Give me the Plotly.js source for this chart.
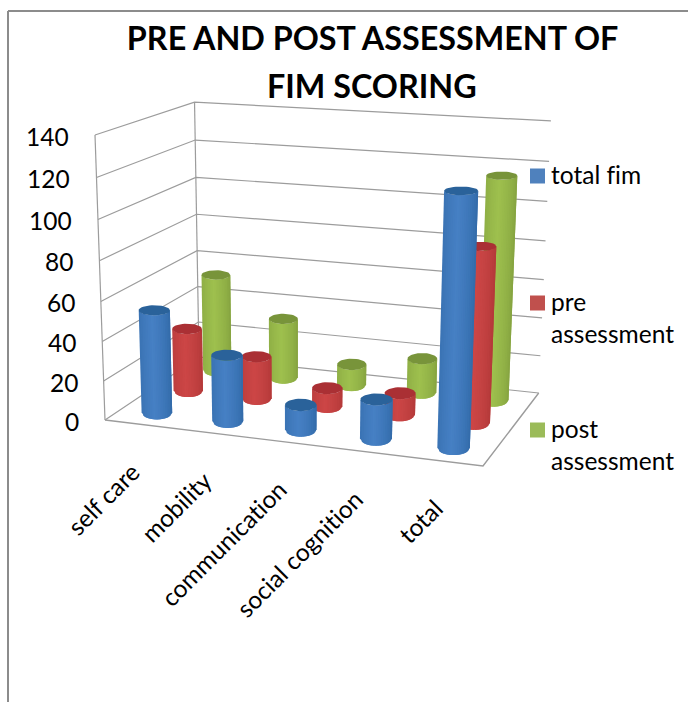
<!DOCTYPE html>
<html>
<head>
<meta charset="utf-8">
<script src="https://cdn.plot.ly/plotly-3.0.1.min.js"></script>
<style>
html,body{margin:0;padding:0;background:#fff;overflow:hidden}
#chart{width:688px;height:702px}
#chart text{font-variant-ligatures:none !important;font-feature-settings:"liga" 0 !important;letter-spacing:0.01px}
</style>
</head>
<body>
<div id="chart"></div>
<script>
// FIM scores per domain
const categories = ["self care", "mobility", "communication", "social cognition", "total"];
const totalFim = [52.5, 33.5, 12.5, 19.5, 121.5];
const preAssessment = [33, 22, 9.5, 11, 88];
const postAssessment = [52.5, 32, 11, 18, 115];
const valueTicks = [0, 20, 40, 60, 80, 100, 120, 140];
const valueMax = 140;

const seriesNames = ["total fim", "pre assessment", "post assessment"];
const seriesValues = [totalFim, preAssessment, postAssessment];

// body shading runs edge -> centre -> edge; cap is the darker top face
const palette = [
  {edge: [48, 104, 166], mid: [70, 128, 196], cap: [42, 98, 154], key: "#4f81bd"},
  {edge: [176, 56, 56], mid: [204, 70, 70], cap: [170, 48, 52], key: "#c0504d"},
  {edge: [130, 160, 62], mid: [158, 192, 78], cap: [120, 148, 58], key: "#9bbb59"}
];

// Oblique box of the 3D plot: floor corners and the top of the front-left edge
const floorFL = [105, 420], floorFR = [483, 466], floorBL = [199, 357];
const topFL = [95, 135];
const wFL = 1, wFR = 0.925, wBL = 1.125, wTop = 0.95;

// Perspective mapping: u along categories, d into depth, v value (all 0..1)
function project(u, d, v) {
  const c = k => floorFL[k] * wFL
    + u * (floorFR[k] * wFR - floorFL[k] * wFL)
    + d * (floorBL[k] * wBL - floorFL[k] * wFL)
    + v * (topFL[k] * wTop - floorFL[k] * wFL);
  const w = wFL + u * (wFR - wFL) + d * (wBL - wFL) + v * (wTop - wFL);
  return {x: c(0) / w, y: c(1) / w, s: 1 / w};
}

const traces = [];
function line(points, color, width) {
  traces.push({
    type: "scatter", mode: "lines", hoverinfo: "skip", showlegend: false,
    x: points.map(p => p.x), y: points.map(p => p.y),
    line: {color: color, width: width}
  });
}
function poly(xs, ys, color, name) {
  traces.push({
    type: "scatter", mode: "lines", fill: "toself", fillcolor: color,
    hoverinfo: name ? "text" : "skip", text: name || "", showlegend: false,
    x: xs, y: ys, line: {color: color, width: 0}
  });
}

// Walls and floor
const gridColor = "#9c9c9c";
valueTicks.forEach(t => {
  const v = t / valueMax;
  line([project(0, 0, v), project(0, 1, v), project(1, 1, v)], gridColor, 1.2);
});
line([project(0, 0, 0), project(0, 0, 1)], gridColor, 1.2);
line([project(0, 1, 0), project(0, 1, 1)], gridColor, 1.2);
line([project(0, 0, 0), project(1, 0, 0), project(1, 1, 0)], gridColor, 1.4);

// Cylinders: the back row first so nearer ones sit in front
const radiusX = 15.5, radiusY = 7, strips = 18;
function mix(a, b, t) {
  const r = a.map((c, i) => Math.round(c + (b[i] - c) * t));
  return `rgb(${r[0]},${r[1]},${r[2]})`;
}
function cylinder(i, k, value) {
  const u = (i + 0.5) / categories.length;
  const d = (k + 0.5) / seriesValues.length;
  const frac = value / valueMax;
  const base = project(u, d, 0), top = project(u, d, frac);
  const rb = radiusX * base.s, rt = radiusX * top.s;
  // the eye sits near the top of the box, so higher caps look flatter
  const yb = radiusY * base.s, yt = radiusY * (1 - 0.45 * Math.sqrt(frac)) * top.s;
  const pal = palette[k];
  const arc = q => Math.sqrt(Math.max(0, 1 - q * q));
  const step = 2 / strips;
  // each strip overlaps the next one so no seams show through
  for (let n = 0; n < strips; n++) {
    const q0 = -1 + n * step, q1 = Math.min(1, q0 + 2 * step);
    const qm = q0 + step / 2;
    const shade = Math.pow(Math.max(0, 1 - Math.abs(qm + 0.15) / 1.15), 0.6);
    poly(
      [top.x + rt * q0, top.x + rt * q1, base.x + rb * q1, base.x + rb * q0, top.x + rt * q0],
      [top.y + yt * arc(q0), top.y + yt * arc(q1), base.y + yb * arc(q1), base.y + yb * arc(q0), top.y + yt * arc(q0)],
      mix(pal.edge, pal.mid, shade)
    );
  }
  const capX = [], capY = [];
  for (let a = 0; a <= 40; a++) {
    const t = a / 40 * 2 * Math.PI;
    capX.push(top.x + rt * Math.cos(t));
    capY.push(top.y + yt * Math.sin(t));
  }
  poly(capX, capY, mix(pal.cap, pal.cap, 0), `${categories[i]}, ${seriesNames[k]}: ${value}`);
}
for (let k = seriesValues.length - 1; k >= 0; k--) {
  seriesValues[k].forEach((value, i) => cylinder(i, k, value));
}

const textFont = {family: "Lato, Carlito, sans-serif", size: 24.5, color: "#000"};
const annotations = [];

// Value labels follow the slant of the front-left edge
valueTicks.forEach(t => {
  const p = project(0, 0, t / valueMax);
  annotations.push({
    xref: "x", yref: "y", x: p.x - 24, y: p.y + 1, text: String(t), showarrow: false,
    xanchor: "right", yanchor: "middle", font: textFont
  });
});

// Category labels hang from the front floor edge at 45 degrees
categories.forEach((name, i) => {
  const p = project((i + 0.5) / categories.length, 0, 0);
  annotations.push({
    xref: "x", yref: "y", x: p.x + 8, y: p.y + 30, text: name, showarrow: false,
    textangle: -45, xanchor: "right", yanchor: "top", font: textFont
  });
});

// Title, one annotation per line for its wide leading
const titleLines = ["PRE AND POST ASSESSMENT OF", "FIM SCORING"];
titleLines.forEach((text, n) => {
  annotations.push({
    xref: "x", yref: "y", x: 372, y: 37 + n * 48, text: text, showarrow: false,
    xanchor: "center", yanchor: "middle", align: "center",
    font: {family: "Lato, Carlito, sans-serif", size: 32.3, color: "#000", weight: 700}
  });
});

// Legend keys and labels
const legendTop = [176, 303, 430];
const legendLabels = ["total fim", "pre<br>assessment", "post<br>assessment"];
const shapes = [
  {type: "line", xref: "x", yref: "y", x0: 8, y0: 11, x1: 8, y1: 702, line: {color: "#8c8c8c", width: 2}},
  {type: "line", xref: "x", yref: "y", x0: 8, y0: 11, x1: 688, y1: 11, line: {color: "#8c8c8c", width: 2}}
];
legendTop.forEach((y, k) => {
  shapes.push({
    type: "rect", xref: "x", yref: "y", x0: 530, x1: 545, y0: y - 7.5, y1: y + 7.5,
    fillcolor: palette[k].key, line: {width: 0}
  });
  annotations.push({
    xref: "x", yref: "y", x: 549, y: y - 18, text: legendLabels[k], showarrow: false,
    xanchor: "left", yanchor: "top", align: "left", font: textFont
  });
});

const hiddenAxis = {visible: false, fixedrange: true, showgrid: false, zeroline: false};
Plotly.newPlot("chart", traces, {
  width: 688, height: 702,
  margin: {l: 0, r: 0, t: 0, b: 0},
  paper_bgcolor: "#fff", plot_bgcolor: "#fff",
  showlegend: false,
  xaxis: Object.assign({range: [0, 688]}, hiddenAxis),
  yaxis: Object.assign({range: [702, 0]}, hiddenAxis),
  shapes: shapes,
  annotations: annotations
}, {displayModeBar: false, staticPlot: true});
</script>
</body>
</html>
